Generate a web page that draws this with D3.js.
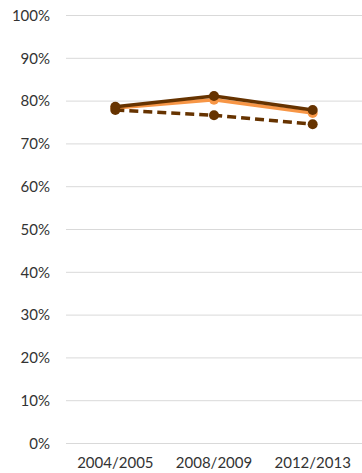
<!DOCTYPE html>
<html>
<head>
<meta charset="utf-8">
<script src="https://cdn.jsdelivr.net/npm/d3@7"></script>
<style>
  body { margin: 0; background: #fff; }
  .tick text { font-family: Lato, "Liberation Sans", sans-serif; font-size: 15px; fill: #333; }
</style>
</head>
<body>
<div id="chart"></div>
<script>
// periods on the x axis
var categories = ["2004/2005", "2008/2009", "2012/2013"];
// series values (share, 0..1)
var orangeValues = [0.784, 0.803, 0.772];
var brownValues = [0.787, 0.812, 0.779];
var dashedValues = [0.779, 0.767, 0.746];
var yTicks = [0, 0.1, 0.2, 0.3, 0.4, 0.5, 0.6, 0.7, 0.8, 0.9, 1];

var margin = {top: 15.5, right: 0, bottom: 30, left: 66};
var width = 362 - margin.left - margin.right;
var height = 428;

var svg = d3.select("#chart").append("svg")
    .attr("width", 362)
    .attr("height", 473)
    .append("g")
    .attr("transform", "translate(" + margin.left + "," + margin.top + ")");

var x = d3.scaleBand().domain(categories).range([0, width]);
var y = d3.scaleLinear().domain([0, 1]).range([height, 0]);

// gridlines
svg.selectAll(".grid")
    .data(yTicks)
    .enter()
    .append("line")
    .attr("class", "grid")
    .attr("x1", 0)
    .attr("x2", width)
    .attr("y1", function(d) { return y(d); })
    .attr("y2", function(d) { return y(d); })
    .style("stroke", "#d9d9d9")
    .style("stroke-width", 1);

var yAxis = d3.axisLeft(y).tickValues(yTicks).tickFormat(d3.format(".0%")).tickSize(0).tickPadding(16);
svg.append("g").call(yAxis).call(function(g) { g.select(".domain").remove(); });

var xAxis = d3.axisBottom(x).tickSize(0).tickPadding(14);
svg.append("g")
    .attr("transform", "translate(0," + height + ")")
    .call(xAxis)
    .call(function(g) { g.select(".domain").remove(); });

var line = d3.line()
    .x(function(d, i) { return x(categories[i]) + x.bandwidth() / 2; })
    .y(function(d) { return y(d); });

var series = [
    {values: orangeValues, color: "#f79646", dash: null},
    {values: dashedValues, color: "#663300", dash: "9,5"},
    {values: brownValues, color: "#663300", dash: null}
];

series.forEach(function(s) {
    svg.append("path")
        .datum(s.values)
        .attr("d", line)
        .style("fill", "none")
        .style("stroke", s.color)
        .style("stroke-width", 3.5)
        .style("stroke-dasharray", s.dash);

    svg.selectAll(null)
        .data(s.values)
        .enter()
        .append("circle")
        .attr("cx", function(d, i) { return x(categories[i]) + x.bandwidth() / 2; })
        .attr("cy", function(d) { return y(d); })
        .attr("r", 5)
        .style("fill", s.color);
});
</script>
</body>
</html>
